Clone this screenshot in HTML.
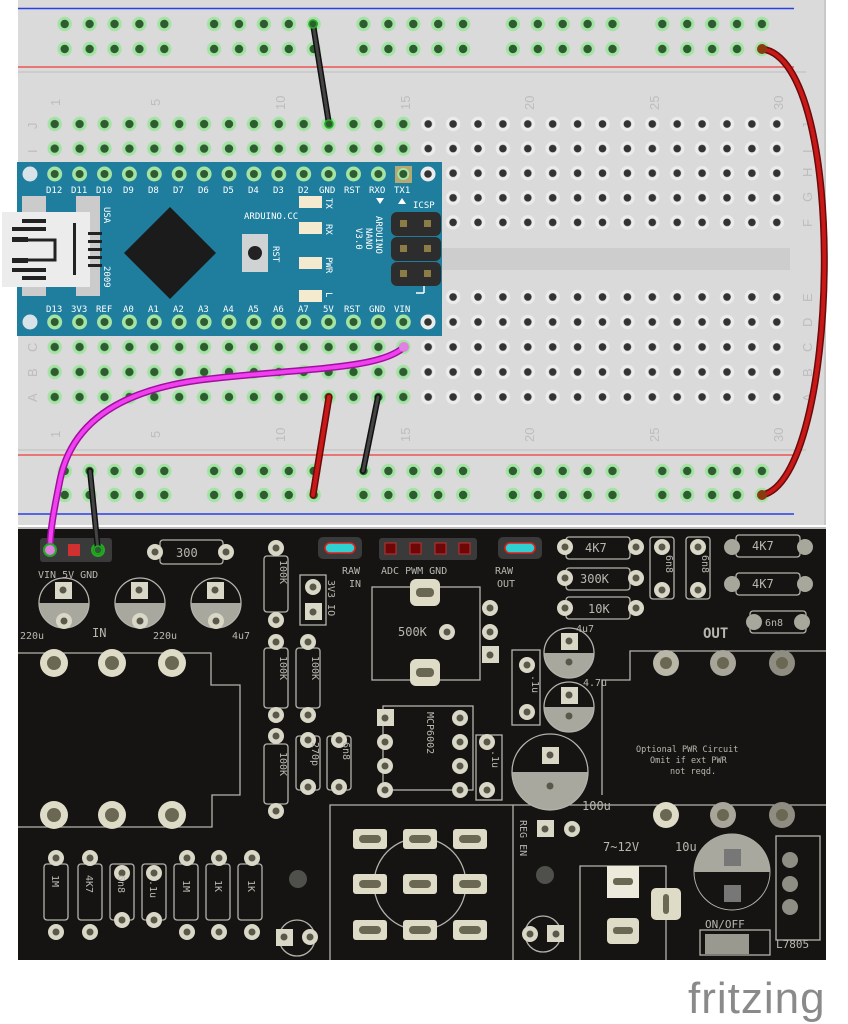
<!DOCTYPE html>
<html><head><meta charset="utf-8"><style>
html,body{margin:0;padding:0;background:#fff;}
svg{display:block;}
.bl{font-family:"DejaVu Sans Mono","Liberation Mono",monospace;fill:#fff;font-size:9px;}
.nm{font-family:"Liberation Sans",sans-serif;fill:#bdbdbd;font-size:13px;}
.sk{fill:none;stroke:#b4b3ab;stroke-width:1.3;}
.st{font-family:"DejaVu Sans Mono","Liberation Mono",monospace;fill:#b8b7ae;font-size:10px;}
.pd{fill:#d9d7c6;}
</style></head><body>
<svg width="848" height="1024" viewBox="0 0 848 1024" xmlns="http://www.w3.org/2000/svg">
<defs>
<pattern id="gT" x="42.25" y="111.7" width="24.9" height="24.6" patternUnits="userSpaceOnUse">
<circle cx="12.45" cy="12.3" r="7.2" fill="#a3e3a3"/><circle cx="12.45" cy="12.3" r="4.2" fill="#2e5c30"/></pattern>
<pattern id="yT" x="42.25" y="111.7" width="24.9" height="24.6" patternUnits="userSpaceOnUse">
<circle cx="12.45" cy="12.3" r="7.2" fill="#ececec"/><circle cx="12.45" cy="12.3" r="3.8" fill="#333"/></pattern>
<pattern id="gB" x="42.25" y="284.7" width="24.9" height="25" patternUnits="userSpaceOnUse">
<circle cx="12.45" cy="12.3" r="7.2" fill="#a3e3a3"/><circle cx="12.45" cy="12.3" r="4.2" fill="#2e5c30"/></pattern>
<pattern id="yB" x="42.25" y="284.7" width="24.9" height="25" patternUnits="userSpaceOnUse">
<circle cx="12.45" cy="12.3" r="7.2" fill="#ececec"/><circle cx="12.45" cy="12.3" r="3.8" fill="#333"/></pattern>
<pattern id="rT" x="52.25" y="11.5" width="149.4" height="25" patternUnits="userSpaceOnUse">
<g fill="#a3e3a3"><circle cx="12.45" cy="12.5" r="7.2"/><circle cx="37.35" cy="12.5" r="7.2"/><circle cx="62.25" cy="12.5" r="7.2"/><circle cx="87.15" cy="12.5" r="7.2"/><circle cx="112.05" cy="12.5" r="7.2"/></g>
<g fill="#2e5c30"><circle cx="12.45" cy="12.5" r="4.2"/><circle cx="37.35" cy="12.5" r="4.2"/><circle cx="62.25" cy="12.5" r="4.2"/><circle cx="87.15" cy="12.5" r="4.2"/><circle cx="112.05" cy="12.5" r="4.2"/></g></pattern>
<pattern id="rB" x="52.25" y="459" width="149.4" height="24" patternUnits="userSpaceOnUse">
<g fill="#a3e3a3"><circle cx="12.45" cy="12" r="7.2"/><circle cx="37.35" cy="12" r="7.2"/><circle cx="62.25" cy="12" r="7.2"/><circle cx="87.15" cy="12" r="7.2"/><circle cx="112.05" cy="12" r="7.2"/></g>
<g fill="#2e5c30"><circle cx="12.45" cy="12" r="4.2"/><circle cx="37.35" cy="12" r="4.2"/><circle cx="62.25" cy="12" r="4.2"/><circle cx="87.15" cy="12" r="4.2"/><circle cx="112.05" cy="12" r="4.2"/></g></pattern>
</defs>

<!-- breadboard -->
<rect x="18" y="0" width="808" height="525" fill="#dadada"/>
<rect x="824" y="0" width="2" height="525" fill="#c8c8c8"/>
<line x1="18" y1="8.5" x2="794" y2="8.5" stroke="#2b3ee8" stroke-width="1.5"/>
<line x1="18" y1="67" x2="794" y2="67" stroke="#ee5555" stroke-width="1.5"/>
<line x1="18" y1="72" x2="806" y2="72" stroke="#c4c4c4" stroke-width="1.2"/>
<line x1="18" y1="450" x2="806" y2="450" stroke="#c4c4c4" stroke-width="1.2"/>
<line x1="18" y1="455" x2="794" y2="455" stroke="#ee5555" stroke-width="1.5"/>
<line x1="18" y1="514" x2="794" y2="514" stroke="#2b3ee8" stroke-width="1.5"/>
<rect x="52.25" y="11.5" width="747" height="50" fill="url(#rT)"/>
<rect x="52.25" y="459" width="747" height="48" fill="url(#rB)"/>
<rect x="440" y="248" width="350" height="22" fill="#cdcdcd"/>
<!-- main holes -->
<rect x="42.25" y="111.7" width="373.5" height="49.2" fill="url(#gT)"/>
<rect x="415.75" y="111.7" width="373.5" height="123" fill="url(#yT)"/>
<rect x="42.25" y="334.7" width="373.5" height="75" fill="url(#gB)"/>
<rect x="415.75" y="284.7" width="373.5" height="125" fill="url(#yB)"/>
<!-- numbers -->
<g class="nm">
<text transform="translate(60,106) rotate(-90)">1</text>
<text transform="translate(160,106) rotate(-90)">5</text>
<text transform="translate(285,110) rotate(-90)">10</text>
<text transform="translate(410,110) rotate(-90)">15</text>
<text transform="translate(534,110) rotate(-90)">20</text>
<text transform="translate(659,110) rotate(-90)">25</text>
<text transform="translate(783,110) rotate(-90)">30</text>
<text transform="translate(60,438) rotate(-90)">1</text>
<text transform="translate(160,438) rotate(-90)">5</text>
<text transform="translate(285,442) rotate(-90)">10</text>
<text transform="translate(410,442) rotate(-90)">15</text>
<text transform="translate(534,442) rotate(-90)">20</text>
<text transform="translate(659,442) rotate(-90)">25</text>
<text transform="translate(783,442) rotate(-90)">30</text>
<text transform="translate(37,129) rotate(-90)">J</text>
<text transform="translate(37,153) rotate(-90)">I</text>
<text transform="translate(37,352) rotate(-90)">C</text>
<text transform="translate(37,377) rotate(-90)">B</text>
<text transform="translate(37,402) rotate(-90)">A</text>
<text transform="translate(812,129) rotate(-90)">J</text>
<text transform="translate(812,153) rotate(-90)">I</text>
<text transform="translate(812,177) rotate(-90)">H</text>
<text transform="translate(812,202) rotate(-90)">G</text>
<text transform="translate(812,227) rotate(-90)">F</text>
<text transform="translate(812,302) rotate(-90)">E</text>
<text transform="translate(812,327) rotate(-90)">D</text>
<text transform="translate(812,352) rotate(-90)">C</text>
<text transform="translate(812,377) rotate(-90)">B</text>
<text transform="translate(812,402) rotate(-90)">A</text>
</g>

<!-- Arduino -->
<rect x="17" y="162" width="425" height="174" fill="#1f7d9e"/>
<g fill="#a3e3a3">
<circle cx="54.7" cy="174" r="7.5"/><circle cx="79.6" cy="174" r="7.5"/><circle cx="104.5" cy="174" r="7.5"/><circle cx="129.4" cy="174" r="7.5"/><circle cx="154.3" cy="174" r="7.5"/><circle cx="179.2" cy="174" r="7.5"/><circle cx="204.1" cy="174" r="7.5"/><circle cx="229" cy="174" r="7.5"/><circle cx="253.9" cy="174" r="7.5"/><circle cx="278.8" cy="174" r="7.5"/><circle cx="303.7" cy="174" r="7.5"/><circle cx="328.6" cy="174" r="7.5"/><circle cx="353.5" cy="174" r="7.5"/><circle cx="378.4" cy="174" r="7.5"/>
<circle cx="54.7" cy="322" r="7.5"/><circle cx="79.6" cy="322" r="7.5"/><circle cx="104.5" cy="322" r="7.5"/><circle cx="129.4" cy="322" r="7.5"/><circle cx="154.3" cy="322" r="7.5"/><circle cx="179.2" cy="322" r="7.5"/><circle cx="204.1" cy="322" r="7.5"/><circle cx="229" cy="322" r="7.5"/><circle cx="253.9" cy="322" r="7.5"/><circle cx="278.8" cy="322" r="7.5"/><circle cx="303.7" cy="322" r="7.5"/><circle cx="328.6" cy="322" r="7.5"/><circle cx="353.5" cy="322" r="7.5"/><circle cx="378.4" cy="322" r="7.5"/><circle cx="403.3" cy="322" r="7.5"/>
</g>
<rect x="395" y="166" width="17" height="17" fill="#b5a872"/><circle cx="403.3" cy="174" r="6" fill="#a3e3a3"/>
<g fill="#2e5c30">
<circle cx="54.7" cy="174" r="4"/><circle cx="79.6" cy="174" r="4"/><circle cx="104.5" cy="174" r="4"/><circle cx="129.4" cy="174" r="4"/><circle cx="154.3" cy="174" r="4"/><circle cx="179.2" cy="174" r="4"/><circle cx="204.1" cy="174" r="4"/><circle cx="229" cy="174" r="4"/><circle cx="253.9" cy="174" r="4"/><circle cx="278.8" cy="174" r="4"/><circle cx="303.7" cy="174" r="4"/><circle cx="328.6" cy="174" r="4"/><circle cx="353.5" cy="174" r="4"/><circle cx="378.4" cy="174" r="4"/><circle cx="403.3" cy="174" r="4"/>
<circle cx="54.7" cy="322" r="4"/><circle cx="79.6" cy="322" r="4"/><circle cx="104.5" cy="322" r="4"/><circle cx="129.4" cy="322" r="4"/><circle cx="154.3" cy="322" r="4"/><circle cx="179.2" cy="322" r="4"/><circle cx="204.1" cy="322" r="4"/><circle cx="229" cy="322" r="4"/><circle cx="253.9" cy="322" r="4"/><circle cx="278.8" cy="322" r="4"/><circle cx="303.7" cy="322" r="4"/><circle cx="328.6" cy="322" r="4"/><circle cx="353.5" cy="322" r="4"/><circle cx="378.4" cy="322" r="4"/><circle cx="403.3" cy="322" r="4"/>
</g>
<circle cx="30" cy="174" r="7.5" fill="#d7e3e8"/><circle cx="30" cy="322" r="7.5" fill="#d7e3e8"/>
<circle cx="428" cy="174" r="7.5" fill="#ececec"/><circle cx="428" cy="174" r="3.8" fill="#333"/>
<circle cx="428" cy="322" r="7.5" fill="#ececec"/><circle cx="428" cy="322" r="3.8" fill="#333"/>
<g class="bl">
<text x="46" y="193">D12</text><text x="71" y="193">D11</text><text x="96" y="193">D10</text><text x="123" y="193">D9</text><text x="148" y="193">D8</text><text x="173" y="193">D7</text><text x="198" y="193">D6</text><text x="223" y="193">D5</text><text x="248" y="193">D4</text><text x="273" y="193">D3</text><text x="298" y="193">D2</text><text x="319" y="193">GND</text><text x="344" y="193">RST</text><text x="369" y="193">RXO</text><text x="394" y="193">TX1</text>
<text x="46" y="312">D13</text><text x="71" y="312">3V3</text><text x="96" y="312">REF</text><text x="123" y="312">A0</text><text x="148" y="312">A1</text><text x="173" y="312">A2</text><text x="198" y="312">A3</text><text x="223" y="312">A4</text><text x="248" y="312">A5</text><text x="273" y="312">A6</text><text x="298" y="312">A7</text><text x="323" y="312">5V</text><text x="344" y="312">RST</text><text x="369" y="312">GND</text><text x="394" y="312">VIN</text>
<text x="244" y="219">ARDUINO.CC</text>
<text x="413" y="208">ICSP</text>
<text transform="translate(104,207) rotate(90)">USA</text>
<text transform="translate(104,266) rotate(90)">2009</text>
<text transform="translate(273,246) rotate(90)">RST</text>
<text transform="translate(326,198) rotate(90)">TX</text>
<text transform="translate(326,224) rotate(90)">RX</text>
<text transform="translate(326,257) rotate(90)">PWR</text>
<text transform="translate(326,292) rotate(90)">L</text>
<text transform="translate(376,216) rotate(90)">ARDUINO</text>
<text transform="translate(366,228) rotate(90)">NANO</text>
<text transform="translate(356,228) rotate(90)">V3.0</text>
</g>
<path d="M376,198 l4,6 l4,-6z M398,204 l4,-6 l4,6z" fill="#fff"/>
<path d="M424,293 v-7 M424,293 h-8" stroke="#fff" stroke-width="1.5"/>
<path d="M170,207 L216,253 L170,299 L124,253Z" fill="#1b1b1b"/>
<rect x="242" y="234" width="26" height="38" fill="#cfd3d3"/><circle cx="255" cy="253" r="7" fill="#222"/>
<g fill="#f3ead0"><rect x="299" y="196" width="23" height="12"/><rect x="299" y="222" width="23" height="12"/><rect x="299" y="257" width="23" height="12"/><rect x="299" y="290" width="23" height="12"/></g>
<g fill="#2d2d2d"><rect x="391" y="212" width="50" height="24" rx="6"/><rect x="391" y="237" width="50" height="24" rx="6"/><rect x="391" y="262" width="50" height="24" rx="6"/></g>
<g fill="#8b7d45"><rect x="400" y="220" width="7" height="7"/><rect x="424" y="220" width="7" height="7"/><rect x="400" y="245" width="7" height="7"/><rect x="424" y="245" width="7" height="7"/><rect x="400" y="270" width="7" height="7"/><rect x="424" y="270" width="7" height="7"/></g>
<rect x="22" y="196" width="24" height="100" fill="#cbcbcb"/><rect x="76" y="196" width="24" height="100" fill="#cbcbcb"/>
<rect x="2" y="212" width="88" height="75" fill="#ececec"/>
<g fill="#222"><rect x="22" y="219" width="24" height="4"/><rect x="12" y="227" width="34" height="4"/><rect x="12" y="237" width="16" height="5"/><rect x="12" y="258" width="16" height="5"/><rect x="12" y="268" width="34" height="4"/><rect x="22" y="276" width="24" height="4"/><rect x="73" y="223" width="3" height="52"/><rect x="88" y="232" width="14" height="3"/><rect x="88" y="240" width="14" height="3"/><rect x="88" y="248" width="14" height="3"/><rect x="88" y="256" width="14" height="3"/><rect x="88" y="264" width="14" height="3"/></g>
<path d="M28,240 L55,240 L55,260 L28,260" fill="none" stroke="#222" stroke-width="3"/>

<!-- PCB -->
<rect x="18" y="527" width="808" height="433" fill="#151413"/>
<rect x="18" y="527" width="808" height="2" fill="#bbb"/>
<g class="sk">
<path d="M18,653 H211 V685 H240 V795 H212 V827 H18"/>
<path d="M330,960 V805 H826"/>
<path d="M513,805 V960"/>
<path d="M826,651 H630 V680 H602 V795"/>
<path d="M580,960 V866 H666 V960"/>
<rect x="372" y="587" width="108" height="93"/>
<rect x="383" y="706" width="90" height="84"/>
<rect x="160" y="540" width="63" height="24" rx="3"/>
<rect x="566" y="537" width="64" height="22" rx="3"/>
<rect x="566" y="568" width="64" height="22" rx="3"/>
<rect x="566" y="597" width="64" height="22" rx="3"/>
<rect x="650" y="537" width="24" height="62" rx="3"/>
<rect x="686" y="537" width="24" height="62" rx="3"/>
<rect x="736" y="535" width="64" height="22" rx="3"/>
<rect x="736" y="573" width="64" height="22" rx="3"/>
<rect x="750" y="611" width="56" height="22" rx="3"/>
<rect x="264" y="556" width="24" height="56" rx="3"/>
<rect x="264" y="648" width="24" height="60" rx="3"/>
<rect x="296" y="648" width="24" height="60" rx="3"/>
<rect x="264" y="744" width="24" height="60" rx="3"/>
<rect x="296" y="736" width="24" height="54" rx="3"/>
<rect x="327" y="736" width="24" height="54" rx="3"/>
<rect x="300" y="575" width="26" height="50"/>
<rect x="512" y="650" width="28" height="75"/>
<rect x="476" y="735" width="26" height="65"/>
<rect x="776" y="836" width="44" height="104"/>
<rect x="700" y="930" width="70" height="25"/>
<circle cx="420" cy="884" r="46"/>
<circle cx="297" cy="938" r="18"/>
<circle cx="543" cy="934" r="18"/>
<rect x="44" y="864" width="24" height="56" rx="3"/><rect x="78" y="864" width="24" height="56" rx="3"/><rect x="110" y="864" width="24" height="56" rx="3"/><rect x="142" y="864" width="24" height="56" rx="3"/><rect x="174" y="864" width="24" height="56" rx="3"/><rect x="206" y="864" width="24" height="56" rx="3"/><rect x="238" y="864" width="24" height="56" rx="3"/>
</g>
<g>
<circle cx="64" cy="603" r="25" fill="#a9a89e"/><path d="M39,603 A25,25 0 0 1 89,603Z" fill="#151413"/>
<circle cx="140" cy="603" r="25" fill="#a9a89e"/><path d="M115,603 A25,25 0 0 1 165,603Z" fill="#151413"/>
<circle cx="216" cy="603" r="25" fill="#a9a89e"/><path d="M191,603 A25,25 0 0 1 241,603Z" fill="#151413"/>
<circle cx="569" cy="653" r="25" fill="#a9a89e"/><path d="M544,653 A25,25 0 0 1 594,653Z" fill="#151413"/>
<circle cx="569" cy="707" r="25" fill="#a9a89e"/><path d="M544,707 A25,25 0 0 1 594,707Z" fill="#151413"/>
<circle cx="550" cy="772" r="38" fill="#a9a89e"/><path d="M512,772 A38,38 0 0 1 588,772Z" fill="#151413"/>
<circle cx="732" cy="872" r="38" fill="#151413" stroke="#b4b3ab"/><path d="M694,872 A38,38 0 0 1 770,872Z" fill="#a9a89e"/>
</g>
<g class="sk"><circle cx="64" cy="603" r="25"/><circle cx="140" cy="603" r="25"/><circle cx="216" cy="603" r="25"/><circle cx="569" cy="653" r="25"/><circle cx="569" cy="707" r="25"/><circle cx="550" cy="772" r="38"/></g>
<g fill="#d9d7c6">
<rect x="55" y="582" width="17" height="17"/><rect x="131" y="582" width="17" height="17"/><rect x="207" y="582" width="17" height="17"/>
<rect x="305" y="603" width="17" height="17"/><rect x="482" y="646" width="17" height="17"/><rect x="377" y="709" width="17" height="17"/>
<rect x="561" y="633" width="17" height="17"/><rect x="561" y="687" width="17" height="17"/><rect x="542" y="747" width="17" height="17"/>
<rect x="537" y="820" width="17" height="17"/><rect x="276" y="929" width="17" height="17"/><rect x="547" y="925" width="17" height="17"/>
<rect x="724" y="849" width="17" height="17" fill="#777"/><rect x="724" y="885" width="17" height="17" fill="#777"/>
<rect x="705" y="934" width="44" height="20" fill="#9a9990"/>
</g>
<g fill="#d9d7c6">
<circle cx="64" cy="621" r="8"/><circle cx="140" cy="621" r="8"/><circle cx="216" cy="621" r="8"/>
<circle cx="155" cy="552" r="8"/><circle cx="226" cy="552" r="8"/>
<circle cx="276" cy="548" r="8"/><circle cx="276" cy="620" r="8"/><circle cx="276" cy="642" r="8"/><circle cx="276" cy="715" r="8"/><circle cx="308" cy="642" r="8"/><circle cx="308" cy="715" r="8"/><circle cx="276" cy="736" r="8"/><circle cx="276" cy="811" r="8"/><circle cx="308" cy="740" r="8"/><circle cx="308" cy="787" r="8"/><circle cx="339" cy="740" r="8"/><circle cx="339" cy="787" r="8"/>
<circle cx="313" cy="587" r="8"/>
<circle cx="490" cy="608" r="8"/><circle cx="490" cy="632" r="8"/><circle cx="447" cy="632" r="8"/>
<circle cx="385" cy="742" r="8"/><circle cx="385" cy="766" r="8"/><circle cx="385" cy="790" r="8"/><circle cx="460" cy="718" r="8"/><circle cx="460" cy="742" r="8"/><circle cx="460" cy="766" r="8"/><circle cx="460" cy="790" r="8"/><circle cx="487" cy="742" r="8"/><circle cx="487" cy="790" r="8"/>
<circle cx="527" cy="665" r="8"/><circle cx="527" cy="712" r="8"/>
<circle cx="565" cy="547" r="8"/><circle cx="636" cy="547" r="8"/><circle cx="565" cy="578" r="8"/><circle cx="636" cy="578" r="8"/><circle cx="565" cy="608" r="8"/><circle cx="636" cy="608" r="8"/>
<circle cx="662" cy="547" r="8"/><circle cx="662" cy="590" r="8"/><circle cx="698" cy="547" r="8"/><circle cx="698" cy="590" r="8"/>
<circle cx="732" cy="547" r="8" fill="#a8a79c"/><circle cx="805" cy="547" r="8" fill="#a8a79c"/><circle cx="732" cy="584" r="8" fill="#a8a79c"/><circle cx="805" cy="584" r="8" fill="#a8a79c"/><circle cx="754" cy="622" r="8" fill="#a8a79c"/><circle cx="802" cy="622" r="8" fill="#a8a79c"/>
<circle cx="572" cy="829" r="8"/><circle cx="310" cy="937" r="8"/><circle cx="530" cy="934" r="8"/>
<circle cx="56" cy="858" r="8"/><circle cx="56" cy="932" r="8"/><circle cx="90" cy="858" r="8"/><circle cx="90" cy="932" r="8"/><circle cx="122" cy="873" r="8"/><circle cx="122" cy="920" r="8"/><circle cx="154" cy="873" r="8"/><circle cx="154" cy="920" r="8"/><circle cx="187" cy="858" r="8"/><circle cx="187" cy="932" r="8"/><circle cx="219" cy="858" r="8"/><circle cx="219" cy="932" r="8"/><circle cx="252" cy="858" r="8"/><circle cx="252" cy="932" r="8"/>
<circle cx="790" cy="860" r="8" fill="#8f8e84"/><circle cx="790" cy="884" r="8" fill="#8f8e84"/><circle cx="790" cy="907" r="8" fill="#8f8e84"/>
</g>
<g fill="#5a584a">
<circle cx="64" cy="621" r="3.5"/><circle cx="140" cy="621" r="3.5"/><circle cx="216" cy="621" r="3.5"/><circle cx="63" cy="590" r="3.5"/><circle cx="139" cy="590" r="3.5"/><circle cx="215" cy="590" r="3.5"/>
<circle cx="155" cy="552" r="3.5"/><circle cx="226" cy="552" r="3.5"/><circle cx="276" cy="548" r="3.5"/><circle cx="276" cy="620" r="3.5"/><circle cx="276" cy="642" r="3.5"/><circle cx="276" cy="715" r="3.5"/><circle cx="308" cy="642" r="3.5"/><circle cx="308" cy="715" r="3.5"/><circle cx="276" cy="736" r="3.5"/><circle cx="276" cy="811" r="3.5"/><circle cx="308" cy="740" r="3.5"/><circle cx="308" cy="787" r="3.5"/><circle cx="339" cy="740" r="3.5"/><circle cx="339" cy="787" r="3.5"/><circle cx="313" cy="587" r="3.5"/><circle cx="313" cy="612" r="3.5"/>
<circle cx="490" cy="608" r="3.5"/><circle cx="490" cy="632" r="3.5"/><circle cx="490" cy="655" r="3.5"/><circle cx="447" cy="632" r="3.5"/>
<circle cx="385" cy="718" r="3.5"/><circle cx="385" cy="742" r="3.5"/><circle cx="385" cy="766" r="3.5"/><circle cx="385" cy="790" r="3.5"/><circle cx="460" cy="718" r="3.5"/><circle cx="460" cy="742" r="3.5"/><circle cx="460" cy="766" r="3.5"/><circle cx="460" cy="790" r="3.5"/><circle cx="487" cy="742" r="3.5"/><circle cx="487" cy="790" r="3.5"/>
<circle cx="527" cy="665" r="3.5"/><circle cx="527" cy="712" r="3.5"/><circle cx="569" cy="641" r="3.5"/><circle cx="569" cy="695" r="3.5"/><circle cx="569" cy="662" r="3.5"/><circle cx="569" cy="716" r="3.5"/><circle cx="550" cy="755" r="3.5"/><circle cx="550" cy="786" r="3.5"/>
<circle cx="565" cy="547" r="3.5"/><circle cx="636" cy="547" r="3.5"/><circle cx="565" cy="578" r="3.5"/><circle cx="636" cy="578" r="3.5"/><circle cx="565" cy="608" r="3.5"/><circle cx="636" cy="608" r="3.5"/><circle cx="662" cy="547" r="3.5"/><circle cx="662" cy="590" r="3.5"/><circle cx="698" cy="547" r="3.5"/><circle cx="698" cy="590" r="3.5"/>
<circle cx="545" cy="829" r="3.5"/><circle cx="572" cy="829" r="3.5"/><circle cx="284" cy="937" r="3.5"/><circle cx="310" cy="937" r="3.5"/><circle cx="530" cy="934" r="3.5"/><circle cx="556" cy="934" r="3.5"/>
<circle cx="56" cy="858" r="3.5"/><circle cx="56" cy="932" r="3.5"/><circle cx="90" cy="858" r="3.5"/><circle cx="90" cy="932" r="3.5"/><circle cx="122" cy="873" r="3.5"/><circle cx="122" cy="920" r="3.5"/><circle cx="154" cy="873" r="3.5"/><circle cx="154" cy="920" r="3.5"/><circle cx="187" cy="858" r="3.5"/><circle cx="187" cy="932" r="3.5"/><circle cx="219" cy="858" r="3.5"/><circle cx="219" cy="932" r="3.5"/><circle cx="252" cy="858" r="3.5"/><circle cx="252" cy="932" r="3.5"/>
</g>
<g fill="#dedcc6">
<circle cx="54" cy="663" r="14"/><circle cx="112" cy="663" r="14"/><circle cx="172" cy="663" r="14"/>
<circle cx="54" cy="815" r="14"/><circle cx="112" cy="815" r="14"/><circle cx="172" cy="815" r="14"/>
<circle cx="666" cy="663" r="13" fill="#b9b7a8"/><circle cx="723" cy="663" r="13" fill="#a8a69a"/><circle cx="782" cy="663" r="13" fill="#8f8d82"/>
<circle cx="666" cy="815" r="13"/><circle cx="723" cy="815" r="13" fill="#a8a69a"/><circle cx="782" cy="815" r="13" fill="#8f8d82"/>
<rect x="410" y="579" width="30" height="27" rx="6"/><rect x="410" y="659" width="30" height="27" rx="6"/>
<rect x="353" y="829" width="34" height="20" rx="3"/><rect x="403" y="829" width="34" height="20" rx="3"/><rect x="453" y="829" width="34" height="20" rx="3"/>
<rect x="353" y="874" width="34" height="20" rx="3"/><rect x="403" y="874" width="34" height="20" rx="3"/><rect x="453" y="874" width="34" height="20" rx="3"/>
<rect x="353" y="920" width="34" height="20" rx="3"/><rect x="403" y="920" width="34" height="20" rx="3"/><rect x="453" y="920" width="34" height="20" rx="3"/>
<rect x="607" y="866" width="32" height="32" fill="#eeeadb"/><rect x="607" y="918" width="32" height="26" rx="4"/><rect x="651" y="888" width="30" height="32" rx="5"/>
</g>
<g fill="#6a6752">
<circle cx="54" cy="663" r="7"/><circle cx="112" cy="663" r="7"/><circle cx="172" cy="663" r="7"/><circle cx="54" cy="815" r="7"/><circle cx="112" cy="815" r="7"/><circle cx="172" cy="815" r="7"/>
<circle cx="666" cy="663" r="6"/><circle cx="723" cy="663" r="6"/><circle cx="782" cy="663" r="6"/><circle cx="666" cy="815" r="6"/><circle cx="723" cy="815" r="6"/><circle cx="782" cy="815" r="6"/>
<rect x="416" y="588" width="18" height="9" rx="4"/><rect x="416" y="668" width="18" height="9" rx="4"/>
<rect x="359" y="835" width="22" height="8" rx="4"/><rect x="409" y="835" width="22" height="8" rx="4"/><rect x="459" y="835" width="22" height="8" rx="4"/>
<rect x="359" y="880" width="22" height="8" rx="4"/><rect x="409" y="880" width="22" height="8" rx="4"/><rect x="459" y="880" width="22" height="8" rx="4"/>
<rect x="359" y="926" width="22" height="8" rx="4"/><rect x="409" y="926" width="22" height="8" rx="4"/><rect x="459" y="926" width="22" height="8" rx="4"/>
<rect x="613" y="878" width="20" height="7" rx="3"/><rect x="613" y="927" width="20" height="7" rx="3"/><rect x="663" y="894" width="6" height="20" rx="3"/>
</g>
<circle cx="298" cy="879" r="9" fill="#4f4f4c"/><circle cx="545" cy="875" r="9" fill="#4f4f4c"/>
<rect x="40" y="538" width="72" height="24" rx="3" fill="#3a3a3a"/>
<rect x="68" y="544" width="12" height="12" fill="#d03030"/>
<circle cx="98" cy="550" r="6" fill="#1b6b1b" stroke="#22aa22" stroke-width="2"/>
<rect x="318" y="537" width="44" height="22" rx="5" fill="#3a3a3a"/>
<rect x="325" y="543" width="30" height="10" rx="5" fill="#30d0d0" stroke="#e02020" stroke-width="1.5"/>
<rect x="498" y="537" width="44" height="22" rx="5" fill="#3a3a3a"/>
<rect x="505" y="543" width="30" height="10" rx="5" fill="#30d0d0" stroke="#e02020" stroke-width="1.5"/>
<rect x="379" y="538" width="98" height="22" rx="3" fill="#3a3a3a"/>
<g fill="#6e0808" stroke="#c03030" stroke-width="1"><rect x="385" y="543" width="11" height="11"/><rect x="410" y="543" width="11" height="11"/><rect x="435" y="543" width="11" height="11"/><rect x="459" y="543" width="11" height="11"/></g>
<g class="st">
<text x="38" y="578">VIN 5V GND</text>
<text x="176" y="557" font-size="12">300</text>
<text x="20" y="639">220u</text><text x="92" y="637" font-size="12">IN</text><text x="153" y="639">220u</text><text x="232" y="639">4u7</text>
<text x="342" y="574" font-size="10">RAW</text><text x="349" y="587">IN</text>
<text x="381" y="574">ADC PWM GND</text>
<text x="495" y="574">RAW</text><text x="497" y="587">OUT</text>
<text x="398" y="636" font-size="12">500K</text>
<text x="585" y="552" font-size="12">4K7</text><text x="580" y="583" font-size="12">300K</text><text x="588" y="613" font-size="12">10K</text>
<text x="752" y="550" font-size="12">4K7</text><text x="752" y="588" font-size="12">4K7</text><text x="765" y="626">6n8</text>
<text x="576" y="632">4u7</text><text x="583" y="686">4.7u</text>
<text x="703" y="638" font-size="14" font-weight="bold">OUT</text>
<text x="582" y="810" font-size="12">100u</text>
<text x="603" y="851" font-size="12">7~12V</text><text x="675" y="851" font-size="12">10u</text>
<text x="705" y="928" font-size="11">ON/OFF</text><text x="776" y="948" font-size="11">L7805</text>
<text x="636" y="752" font-size="8.5">Optional PWR Circuit</text>
<text x="650" y="763" font-size="8.5">Omit if ext PWR</text>
<text x="670" y="774" font-size="8.5">not reqd.</text>
<text transform="translate(280,560) rotate(90)">100K</text>
<text transform="translate(280,656) rotate(90)">100K</text>
<text transform="translate(312,656) rotate(90)">100K</text>
<text transform="translate(280,752) rotate(90)">100K</text>
<text transform="translate(312,742) rotate(90)">270p</text>
<text transform="translate(343,742) rotate(90)">6n8</text>
<text transform="translate(328,580) rotate(90)">3V3 IO</text>
<text transform="translate(427,712) rotate(90)">MCP6002</text>
<text transform="translate(492,750) rotate(90)">.1u</text>
<text transform="translate(532,675) rotate(90)">.1u</text>
<text transform="translate(666,555) rotate(90)">6n8</text>
<text transform="translate(702,555) rotate(90)">6n8</text>
<text transform="translate(520,820) rotate(90)">REG EN</text>
<text transform="translate(52,875) rotate(90)">1M</text><text transform="translate(86,875) rotate(90)">4K7</text><text transform="translate(118,875) rotate(90)">6n8</text><text transform="translate(150,880) rotate(90)">.1u</text><text transform="translate(183,880) rotate(90)">1M</text><text transform="translate(215,880) rotate(90)">1K</text><text transform="translate(248,880) rotate(90)">1K</text>
</g>

<g fill="none" stroke-linecap="round">
<path d="M313,24 L329,124" stroke="#111" stroke-width="6"/><path d="M313,24 L329,124" stroke="#444" stroke-width="3"/>
<path d="M762,49 C850,60 840,480 762,495" stroke="#6a0a0a" stroke-width="7"/><path d="M762,49 C850,60 840,480 762,495" stroke="#c81818" stroke-width="4"/>
<path d="M329,397 L313,495" stroke="#6a0a0a" stroke-width="7"/><path d="M329,397 L313,495" stroke="#c81818" stroke-width="4"/>
<path d="M378,397 L363,471" stroke="#111" stroke-width="6"/><path d="M378,397 L363,471" stroke="#444" stroke-width="3"/>
<path d="M90,471 L98,550" stroke="#111" stroke-width="6"/><path d="M90,471 L98,550" stroke="#444" stroke-width="3"/>
<path d="M404,347 C380,370 300,368 200,380 C110,392 70,430 60,480 C54,510 50,530 50,550" stroke="#a010a0" stroke-width="7"/>
<path d="M404,347 C380,370 300,368 200,380 C110,392 70,430 60,480 C54,510 50,530 50,550" stroke="#f040f0" stroke-width="4"/>
</g>
<g fill="#2e5c30" stroke="#22aa22" stroke-width="1.5"><circle cx="313" cy="24" r="4"/><circle cx="329" cy="124" r="4"/><circle cx="98" cy="550" r="4"/></g>
<circle cx="762" cy="49" r="5" fill="#8a3a10"/><circle cx="762" cy="495" r="5" fill="#8a3a10"/>
<circle cx="50" cy="550" r="6" fill="#e080e0" stroke="#22aa22" stroke-width="2"/>
<circle cx="404" cy="347" r="5" fill="#e080e0"/>

<text x="688" y="1013" font-family="Liberation Sans, DejaVu Sans, sans-serif" font-size="44" letter-spacing="1" fill="#8a8a8a">fritzing</text>
</svg>
</body></html>
